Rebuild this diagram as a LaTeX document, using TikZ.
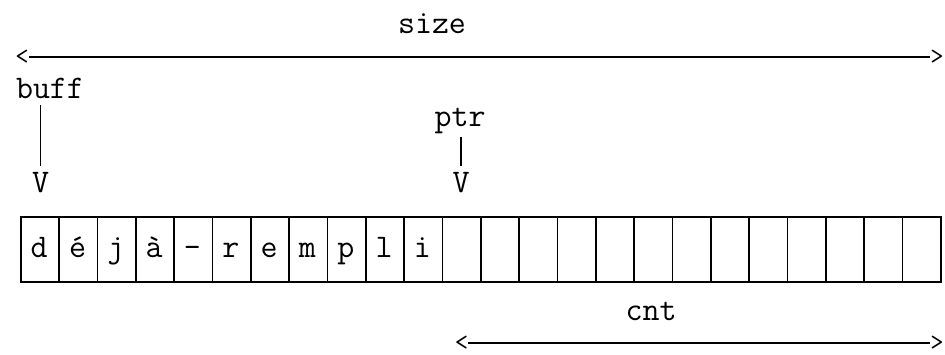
\documentclass[tikz,border=0pt]{standalone}
\usepackage{fontspec}
\newcommand{\typefont}{\ttfamily\addfontfeatures{FakeStretch=1.1}\fontsize{33}{33}\selectfont}
\newcommand{\tipfont}{\ttfamily\fontsize{26}{26}\selectfont}
\begin{document}
\begin{tikzpicture}[x=1pt,y=-1pt,
  txt/.style={font=\typefont, inner sep=0pt},
  lbl/.style={txt, anchor=base},
  tipchar/.style={font=\tipfont, inner sep=0pt},
  rule/.style={line width=1.8pt},
  cellbox/.style={draw, line width=1.8pt, minimum width=38.33pt,
                  minimum height=65pt, inner sep=0pt, anchor=north west}]
  \useasboundingbox (0,0) rectangle (945,354);

  % size: total buffer length
  \node[lbl] (size) at (432,33) {size};
  \node[tipchar] (sizeL) at (22,57) {<};
  \node[tipchar] (sizeR) at (937,57) {>};
  \draw[rule] (sizeL.east) -- (sizeR.west);

  % buff pointer
  \node[lbl] (buff) at (50,98) {buff};
  \node[lbl] (buffV) at (40.5,192) {V};
  \draw[rule] ([yshift=-7pt]buff.south -| buffV) -- ([yshift=6pt]buffV.north);

  % ptr pointer
  \node[lbl] (ptr) at (460,126) {ptr};
  \node[lbl] (ptrV) at (461,192) {V};
  \draw[rule] ([yshift=-3pt]ptr.south -| ptrV) -- ([yshift=6pt]ptrV.north);

  % the buffer cells
  \foreach \i in {0,...,23} {
    \node[cellbox] (c\i) at ({20+\i*38.33},216) {};
  }
  \foreach \ch [count=\i from 0] in {d,é,j,à,-,r,e,m,p,l,i} {
    \node[lbl] (t\i) at ({39.17+\i*38.33},257) {\ch};
  }

  % cnt: remaining free space
  \node[lbl] (cnt) at (651,320) {cnt};
  \node[tipchar] (cntL) at (461.5,343) {<};
  \node[tipchar] (cntR) at (937,343) {>};
  \draw[rule] (cntL.east) -- (cntR.west);
\end{tikzpicture}
\end{document}
